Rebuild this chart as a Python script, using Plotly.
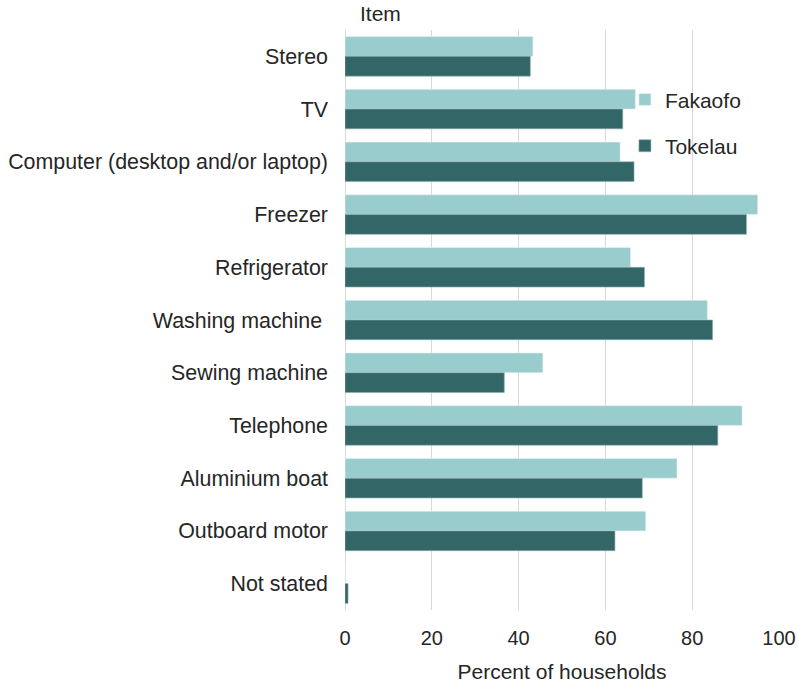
import plotly.graph_objects as go

items = ["Stereo", "TV", "Computer (desktop and/or laptop)", "Freezer", "Refrigerator",
         "Washing machine ", "Sewing machine", "Telephone", "Aluminium boat",
         "Outboard motor", "Not stated"]
fakaofo = [43.3, 66.9, 63.4, 95.1, 65.8, 83.5, 45.6, 91.5, 76.5, 69.3, 0.0]
tokelau = [42.7, 64.0, 66.6, 92.5, 69.0, 84.7, 36.7, 85.9, 68.5, 62.2, 0.7]
x_ticks = [0, 20, 40, 60, 80, 100]

FONT = "Liberation Sans, Arial, sans-serif"
FS = 21

fig = go.Figure()
fig.add_trace(go.Bar(y=items, x=fakaofo, orientation="h", name="Fakaofo",
                     marker=dict(color="#99CCCC", line=dict(color="#E8F4F4", width=0.6)),
                     legendgroup="a"))
fig.add_trace(go.Bar(y=items, x=tokelau, orientation="h", name="Tokelau",
                     marker=dict(color="#336666", line=dict(color="#8FB0B0", width=0.6)),
                     legendgroup="b"))

fig.update_layout(
    width=798, height=686,
    margin=dict(l=345, r=19, t=30, b=76, autoexpand=False),
    paper_bgcolor="white", plot_bgcolor="white",
    barmode="group", bargap=0.25, bargroupgap=0,
    font=dict(family=FONT, size=FS, color="#262626"),
    showlegend=True,
    legend=dict(x=0.645, y=0.915, xanchor="left", yanchor="top",
                bgcolor="rgba(0,0,0,0)", font=dict(size=FS, color="#262626"),
                tracegroupgap=16, traceorder="grouped", itemwidth=30),
    xaxis=dict(range=[0, 100], tickvals=x_ticks, showgrid=True, gridcolor="#D9D9D9",
               gridwidth=1, zeroline=True, zerolinecolor="#D9D9D9", zerolinewidth=1,
               showline=False, ticks="", tickfont=dict(size=20), automargin=False,
               ticklabelstandoff=14,
               title=dict(text="Percent of households", font=dict(size=FS), standoff=16)),
    yaxis=dict(autorange="reversed", showgrid=False, showline=False, ticks="",
               automargin=False, ticklabelstandoff=16, tickfont=dict(size=21.4)),
    annotations=[dict(text="Item", xref="paper", yref="paper", x=0.03, y=1.0,
                      xanchor="left", yanchor="bottom", showarrow=False,
                      font=dict(size=FS, color="#262626"), yshift=3)],
)

fig.write_html("out.html", config={"displayModeBar": False},
               post_script="document.body.style.margin='0';document.body.style.overflow='hidden';")
